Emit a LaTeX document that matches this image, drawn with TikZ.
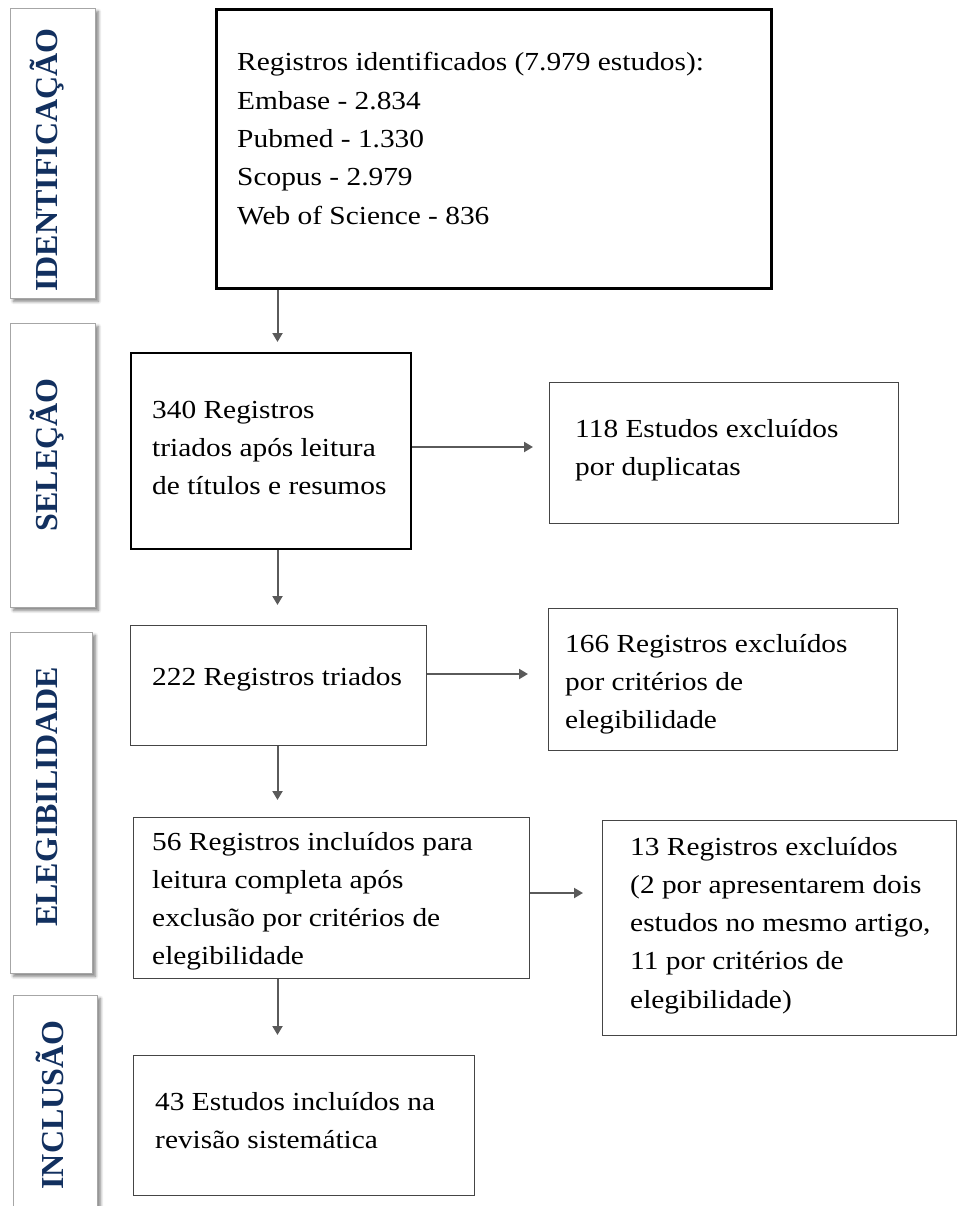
\documentclass[tikz,border=0pt]{standalone}
\usepackage{fontspec}
\setmainfont{Liberation Serif}
\usetikzlibrary{shadows.blur,arrows.meta}
\definecolor{navy}{HTML}{12305F}
\definecolor{arrgray}{HTML}{5A5A5A}
\definecolor{boxgray}{HTML}{454545}
\tikzset{
  phase/.style={draw=gray!70, line width=0.8pt, fill=white, anchor=north west, inner sep=0pt,
    blur shadow={shadow xshift=3pt, shadow yshift=-3pt, shadow blur radius=3pt, shadow blur steps=6, shadow opacity=50}},
  phasetext/.style={rotate=90, text=navy, font=\fontsize{32}{36}\selectfont\bfseries, inner sep=0pt},
  stepbox/.style={draw=boxgray, line width=1.3pt, anchor=north west, inner sep=0pt},
  boxtext/.style={anchor=base west, inner sep=0pt, align=left, xscale=1.13, font=\fontsize{26}{38.3}\selectfont},
  arr/.style={draw=arrgray, line width=2pt, -{Triangle[width=10pt,length=9pt]}}
}
\begin{document}
\begin{tikzpicture}[x=1pt,y=-1pt]
\useasboundingbox (0,0) rectangle (959,1206);
\clip (0,0) rectangle (959,1206);
% phase labels
\node[phase, minimum width=85pt, minimum height=290pt] (pid) at (10,8) {};
\node[phasetext] (tid) at (47,160) {IDENTIFICAÇÃO};
\node[phase, minimum width=85pt, minimum height=284pt] (psel) at (10,323) {};
\node[phasetext] (tsel) at (47,455) {SELEÇÃO};
\node[phase, minimum width=82pt, minimum height=341pt] (pel) at (10,632) {};
\node[phasetext] (tel) at (47,797) {ELEGIBILIDADE};
\node[phase, minimum width=84pt, minimum height=240pt] (pin) at (13,995) {};
\node[phasetext] (tin) at (50,1105) {INCLUSÃO};
% boxes (text nodes anchored at the baseline of their last line)
\node[stepbox, draw=black, line width=3pt, minimum width=555pt, minimum height=279pt] (b1) at (215,8) {};
\node[boxtext] (t1) at (237,224.2) {Registros identificados (7.979 estudos):\\Embase - 2.834\\Pubmed - 1.330\\Scopus - 2.979\\Web of Science - 836};
\node[stepbox, draw=black, line width=2pt, minimum width=280pt, minimum height=196pt] (b2) at (130,352) {};
\node[boxtext] (t2) at (152,494.6) {340 Registros\\triados após leitura\\de títulos e resumos};
\node[stepbox, minimum width=349pt, minimum height=141pt] (b3) at (549,382) {};
\node[boxtext] (t3) at (575,475.3) {118 Estudos excluídos\\por duplicatas};
\node[stepbox, minimum width=296pt, minimum height=120pt] (b4) at (130,625) {};
\node[boxtext] (t4) at (152,685) {222 Registros triados};
\node[stepbox, minimum width=349pt, minimum height=142pt] (b5) at (548,608) {};
\node[boxtext] (t5) at (565,728.6) {166 Registros excluídos\\por critérios de\\elegibilidade};
\node[stepbox, minimum width=396pt, minimum height=161pt] (b6) at (133,817) {};
\node[boxtext] (t6) at (152,964.9) {56 Registros incluídos para\\leitura completa após\\exclusão por critérios de\\elegibilidade};
\node[stepbox, minimum width=354pt, minimum height=215pt] (b7) at (602,820) {};
\node[boxtext] (t7) at (630,1008.2) {13 Registros excluídos\\(2 por apresentarem dois\\estudos no mesmo artigo,\\11 por critérios de\\elegibilidade)};
\node[stepbox, minimum width=341pt, minimum height=140pt] (b8) at (133,1055) {};
\node[boxtext] (t8) at (155,1148.3) {43 Estudos incluídos na\\revisão sistemática};
% helper coordinates
\coordinate (colx) at (277.5,0);
\coordinate (r2) at (0,447);
\coordinate (r4) at (0,674);
\coordinate (r6) at (0,893);
% arrows
\draw[arr, shorten >=10pt] (b1.south -| colx) -- (b2.north -| colx);
\draw[arr, shorten >=20pt] (b2.south -| colx) -- (b4.north -| colx);
\draw[arr, shorten >=17pt] (b4.south -| colx) -- (b6.north -| colx);
\draw[arr, shorten >=20pt] (b6.south -| colx) -- (b8.north -| colx);
\draw[arr, shorten >=16pt] (b2.east |- r2) -- (b3.west |- r2);
\draw[arr, shorten >=20pt] (b4.east |- r4) -- (b5.west |- r4);
\draw[arr, shorten >=19pt] (b6.east |- r6) -- (b7.west |- r6);
\end{tikzpicture}
\end{document}
